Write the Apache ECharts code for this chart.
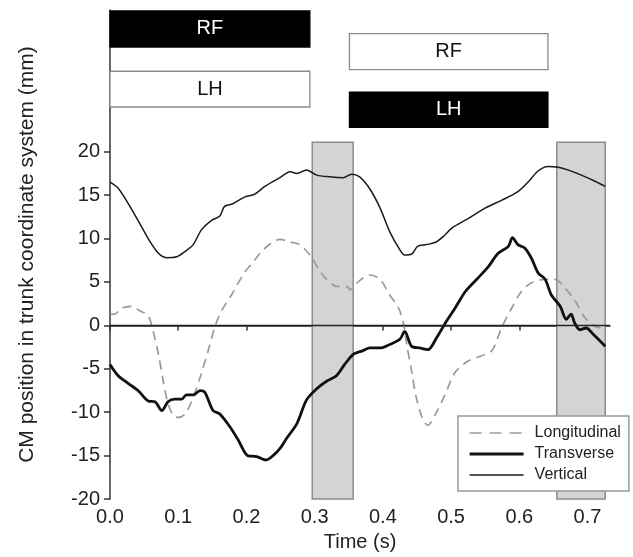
<!DOCTYPE html>
<html>
<head>
<meta charset="utf-8">
<script src="https://cdn.jsdelivr.net/npm/echarts@6/dist/echarts.min.js"></script>
<style>
html, body { margin: 0; padding: 0; background: #fff; }
#chart { width: 633px; height: 557px; }
</style>
</head>
<body>
<div id="chart"></div>
<script>
// time (s), CM position (mm)
const longitudinal = [[0,1.3],[0.007,1.3],[0.017,2.0],[0.032,2.2],[0.041,1.8],[0.056,1.1],[0.063,-0.6],[0.071,-3.3],[0.078,-6.4],[0.085,-9.0],[0.093,-10.4],[0.1,-10.6],[0.11,-10.2],[0.12,-8.7],[0.132,-6.0],[0.144,-2.9],[0.154,-0.1],[0.163,1.6],[0.178,3.5],[0.198,6.2],[0.207,7.0],[0.222,8.5],[0.237,9.5],[0.249,9.9],[0.264,9.6],[0.278,9.3],[0.293,8.1],[0.308,6.2],[0.32,5.1],[0.332,4.5],[0.347,4.5],[0.352,4.1],[0.362,4.9],[0.381,5.8],[0.396,5.3],[0.41,3.5],[0.423,2.0],[0.43,0.3],[0.435,-2.2],[0.442,-5.2],[0.449,-8.3],[0.459,-10.9],[0.466,-11.5],[0.476,-10.4],[0.491,-8.0],[0.506,-5.4],[0.525,-4.1],[0.545,-3.5],[0.56,-2.9],[0.574,-0.3],[0.589,2.0],[0.603,3.9],[0.618,4.9],[0.638,5.3],[0.652,5.3],[0.667,4.3],[0.682,2.8],[0.696,0.9],[0.711,-0.1],[0.721,-0.3]];
const transverse = [[0,-4.5],[0.012,-5.8],[0.027,-6.7],[0.041,-7.5],[0.056,-8.7],[0.066,-8.8],[0.076,-9.8],[0.085,-8.8],[0.095,-8.5],[0.105,-8.5],[0.112,-8.0],[0.122,-8.0],[0.132,-7.5],[0.139,-7.7],[0.151,-9.8],[0.161,-10.2],[0.176,-11.7],[0.188,-13.2],[0.202,-15.0],[0.215,-15.1],[0.229,-15.5],[0.239,-15.0],[0.249,-14.2],[0.259,-13.0],[0.274,-11.3],[0.288,-8.6],[0.303,-7.3],[0.318,-6.4],[0.332,-5.8],[0.344,-4.5],[0.357,-3.3],[0.371,-2.9],[0.381,-2.6],[0.396,-2.6],[0.41,-2.2],[0.425,-1.6],[0.432,-0.7],[0.442,-2.4],[0.454,-2.6],[0.466,-2.8],[0.479,-1.4],[0.491,0.2],[0.506,2.0],[0.521,3.9],[0.54,5.5],[0.555,6.8],[0.569,8.3],[0.584,9.1],[0.59,10.1],[0.598,9.3],[0.608,8.9],[0.618,7.7],[0.628,6.0],[0.638,5.3],[0.647,3.5],[0.66,2.2],[0.669,0.7],[0.676,1.3],[0.681,0.3],[0.689,-0.5],[0.698,-0.3],[0.708,-1.0],[0.726,-2.4]];
const vertical = [[0,16.5],[0.012,15.8],[0.027,14.0],[0.041,12.1],[0.056,10.0],[0.071,8.3],[0.083,7.8],[0.098,7.9],[0.11,8.5],[0.122,9.3],[0.134,11.0],[0.149,12.1],[0.161,12.6],[0.168,13.7],[0.18,14.0],[0.198,14.8],[0.212,15.1],[0.227,16.0],[0.249,17.0],[0.264,17.7],[0.274,17.5],[0.288,17.9],[0.303,17.3],[0.323,17.1],[0.342,17.0],[0.354,17.4],[0.366,17.1],[0.381,15.7],[0.396,13.5],[0.41,10.8],[0.425,8.7],[0.432,8.1],[0.442,8.2],[0.451,9.1],[0.464,9.3],[0.478,9.6],[0.491,10.4],[0.501,11.2],[0.525,12.3],[0.55,13.5],[0.574,14.4],[0.598,15.4],[0.613,16.5],[0.628,17.8],[0.642,18.3],[0.657,18.2],[0.671,17.9],[0.691,17.3],[0.711,16.6],[0.726,16.0]];

// grey shaded intervals (s)
const bandStart = [0.2965, 0.655];
const bandEnd = [0.3565, 0.726];

// limb contact boxes
const phaseLabels = ['RF', 'LH', 'RF', 'LH'];
const phaseStart = [0, 0, 0.351, 0.351];
const phaseEnd = [0.293, 0.293, 0.642, 0.642];

const xTicks = [0, 0.1, 0.2, 0.3, 0.4, 0.5, 0.6, 0.7];
const yTicks = [-20, -15, -10, -5, 0, 5, 10, 15, 20];

const FONT = '"Liberation Sans", Arial, sans-serif';

// box rows [bottom, top] in y units, fill
const rows = [[32.05, 36.2, '#000'], [25.14, 29.26, '#fff'], [29.45, 33.59, '#fff'], [22.79, 26.86, '#000']];

const phaseAreas = phaseLabels.map(function (lab, i) {
    const dark = rows[i][2] === '#000';
    return [
        {
            xAxis: phaseStart[i], yAxis: rows[i][1], name: lab,
            itemStyle: { color: rows[i][2], borderColor: dark ? '#000' : '#8a8a8a', borderWidth: 1.3 },
            label: { color: dark ? '#fff' : '#111' }
        },
        { xAxis: phaseEnd[i], yAxis: rows[i][0] }
    ];
});

const bandAreas = bandStart.map(function (s, i) {
    return [{ xAxis: s, yAxis: -20 }, { xAxis: bandEnd[i], yAxis: 21.07 }];
});

const chart = echarts.init(document.getElementById('chart'));
chart.setOption({
    animation: false,
    backgroundColor: '#fff',
    grid: { left: 110, right: 23, top: 10, bottom: 54.3 },
    legend: {
        data: [
            { name: 'Longitudinal', lineStyle: { type: [12, 8], width: 1.7 } },
            { name: 'Transverse', lineStyle: { width: 3.2 } },
            { name: 'Vertical', lineStyle: { width: 1.7 } }
        ],
        orient: 'vertical',
        left: 458,
        top: 416,
        itemWidth: 54,
        itemHeight: 14,
        itemGap: 5,
        padding: [9, 8, 8, 10],
        backgroundColor: '#fff',
        borderColor: '#999',
        borderWidth: 1.5,
        borderRadius: 0,
        itemStyle: { opacity: 0 },
        textStyle: { fontFamily: FONT, fontSize: 16, color: '#222', padding: [0, 0, 0, 6] }
    },
    xAxis: {
        type: 'value',
        min: 0,
        max: 0.733,
        name: 'Time (s)',
        nameLocation: 'middle',
        nameGap: 32,
        nameTextStyle: { fontFamily: FONT, fontSize: 20, color: '#222' },
        axisLine: { show: true, lineStyle: { color: '#333', width: 1.5 } },
        axisTick: { show: true, length: 5, customValues: xTicks, lineStyle: { color: '#333', width: 1.5 } },
        axisLabel: {
            customValues: xTicks, margin: 8, fontFamily: FONT, fontSize: 20, color: '#222',
            formatter: function (v) { return v.toFixed(1); }
        },
        splitLine: { show: false }
    },
    yAxis: {
        type: 'value',
        min: -20,
        max: 36.31,
        name: 'CM position in trunk coordinate system (mm)',
        nameLocation: 'middle',
        nameGap: 72,
        nameTextStyle: { fontFamily: FONT, fontSize: 21, color: '#222' },
        axisLine: { show: true, lineStyle: { color: '#333', width: 1.5 } },
        axisTick: { show: true, length: 6, customValues: yTicks, lineStyle: { color: '#333', width: 1.5 } },
        axisLabel: { customValues: yTicks, margin: 10, fontFamily: FONT, fontSize: 20, color: '#222' },
        splitLine: { show: false }
    },
    series: [
        {
            name: 'bands',
            type: 'line',
            data: [],
            z: 1,
            silent: true,
            markArea: {
                silent: true,
                itemStyle: { color: '#d4d4d4', borderColor: '#8c8c8c', borderWidth: 1.5 },
                data: bandAreas
            }
        },
        {
            name: 'phases',
            type: 'line',
            data: [],
            z: 1,
            silent: true,
            markArea: {
                silent: true,
                label: { show: true, position: 'inside', fontFamily: FONT, fontSize: 20 },
                data: phaseAreas
            }
        },
        {
            name: 'zero',
            type: 'line',
            data: [],
            z: 3,
            silent: true,
            markLine: {
                silent: true,
                symbol: 'none',
                label: { show: false },
                lineStyle: { color: '#222', width: 1.3, type: 'solid' },
                data: [[{ coord: [0, 0] }, { coord: [0.733, 0] }]]
            }
        },
        {
            name: 'Longitudinal',
            type: 'line',
            data: longitudinal,
            symbol: 'none',
            smooth: 0.3,
            z: 4,
            lineStyle: { color: '#9a9a9a', width: 1.7, type: [9, 6] },
            itemStyle: { color: '#9a9a9a' }
        },
        {
            name: 'Transverse',
            type: 'line',
            data: transverse,
            symbol: 'none',
            smooth: 0.3,
            z: 4,
            lineStyle: { color: '#111', width: 2.8 },
            itemStyle: { color: '#111' }
        },
        {
            name: 'Vertical',
            type: 'line',
            data: vertical,
            symbol: 'none',
            smooth: 0.3,
            z: 4,
            lineStyle: { color: '#1a1a1a', width: 1.5 },
            itemStyle: { color: '#1a1a1a' }
        }
    ]
});
</script>
</body>
</html>
